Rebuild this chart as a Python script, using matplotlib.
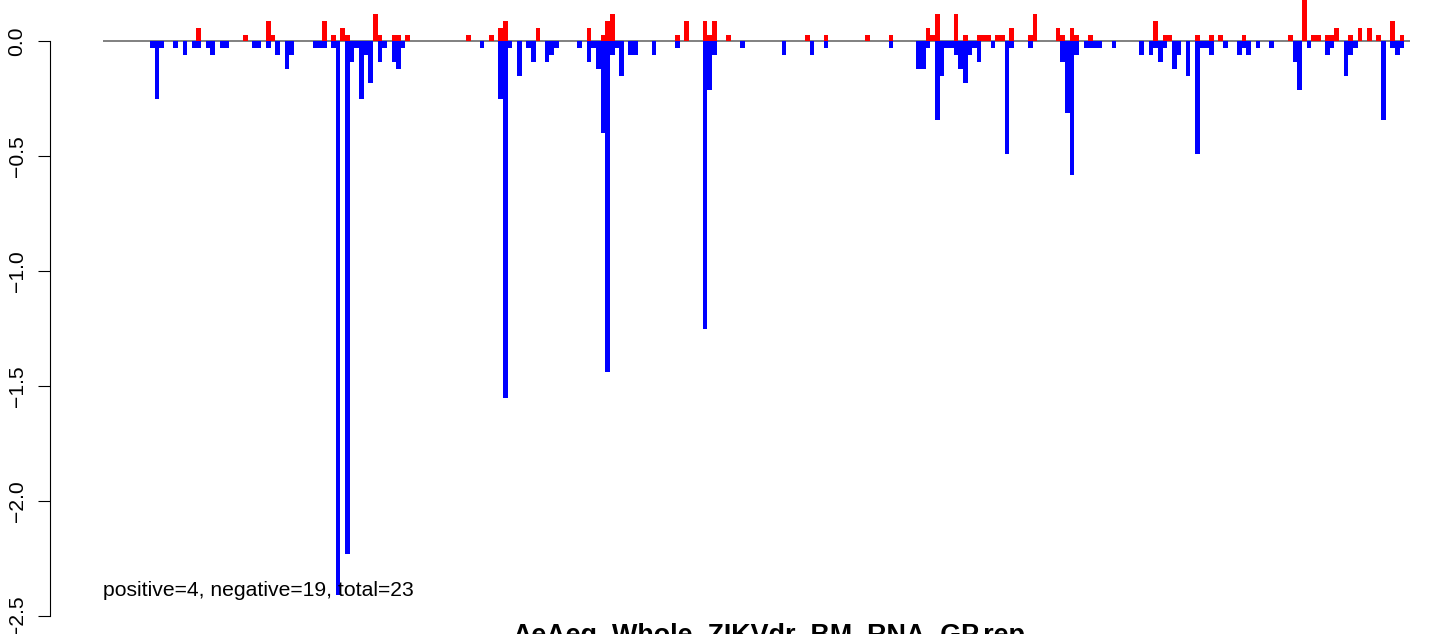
import matplotlib
matplotlib.use("Agg")
import matplotlib.pyplot as plt

plt.rcParams['font.family'] = ['Liberation Sans', 'DejaVu Sans']

## bins (bar index along x) with positive scores -> red
pos_bin = [10, 20, 25, 26, 37, 39, 41, 42, 48, 49, 52, 53, 55,
           68, 73, 75, 76, 83, 94, 97, 98, 99, 113, 115, 119, 120, 121, 124,
           141, 145, 154, 159, 167, 168, 169, 173, 175, 178, 179, 180, 182, 183,
           185, 189, 190, 195, 196, 198, 199,
           202, 216, 218, 219, 225, 228, 230, 235, 245, 248, 250, 251, 253, 254,
           255, 258, 260, 262, 264, 267, 269]
pos_val = [0.06, 0.03, 0.09, 0.03, 0.09, 0.03, 0.06, 0.03, 0.12, 0.03, 0.03, 0.03, 0.03,
           0.03, 0.03, 0.06, 0.09, 0.06, 0.06, 0.03, 0.09, 0.12, 0.03, 0.09, 0.09, 0.03, 0.09, 0.03,
           0.03, 0.03, 0.03, 0.03, 0.06, 0.03, 0.12, 0.12, 0.03, 0.03, 0.03, 0.03, 0.03, 0.03,
           0.06, 0.03, 0.12, 0.06, 0.03, 0.06, 0.03,
           0.03, 0.09, 0.03, 0.03, 0.03, 0.03, 0.03, 0.03, 0.03, 0.19, 0.03, 0.03, 0.03, 0.03,
           0.06, 0.03, 0.06, 0.06, 0.03, 0.09, 0.03]

## bins with negative scores -> blue
neg_bin = [0, 1, 2, 5, 7, 9, 10, 12, 13, 15, 16, 22, 23, 25, 27, 29, 30, 35, 36, 37,
           39, 40, 42, 43, 44, 45, 46, 47, 49, 50, 52, 53, 54,
           71, 75, 76, 77, 79, 81, 82, 85, 86, 87, 92, 94, 95, 96, 97, 98, 99, 100,
           101, 103, 104, 108, 113, 119, 120, 121, 127,
           136, 142, 145, 159, 165, 166, 167, 169, 170, 171, 172, 173, 174, 175, 176,
           177, 178, 181, 184, 185, 189, 196, 197, 198, 199,
           201, 202, 203, 204, 207, 213, 215, 216, 217, 218, 220, 221, 223, 225, 226,
           227, 228, 231, 234, 235, 236, 238, 241, 246, 247, 249, 253, 254, 257, 258,
           259, 265, 267, 268, 269]
neg_val = [-0.03, -0.25, -0.03, -0.03, -0.06, -0.03, -0.03, -0.03, -0.06, -0.03, -0.03,
           -0.03, -0.03, -0.03, -0.06, -0.12, -0.06, -0.03, -0.03, -0.03,
           -0.03, -2.41, -2.23, -0.09, -0.03, -0.25, -0.06, -0.18, -0.09, -0.03, -0.09, -0.12, -0.03,
           -0.03, -0.25, -1.55, -0.03, -0.15, -0.03, -0.09, -0.09, -0.06, -0.03, -0.03, -0.09,
           -0.03, -0.12, -0.40, -1.44, -0.06, -0.03,
           -0.15, -0.06, -0.06, -0.06, -0.03, -1.25, -0.21, -0.06, -0.03,
           -0.06, -0.06, -0.03, -0.03, -0.12, -0.12, -0.03, -0.34, -0.15, -0.03, -0.03, -0.06,
           -0.12, -0.18, -0.06,
           -0.03, -0.09, -0.03, -0.49, -0.03, -0.03, -0.09, -0.31, -0.58, -0.06,
           -0.03, -0.03, -0.03, -0.03, -0.03, -0.06, -0.06, -0.03, -0.09, -0.03, -0.12, -0.06,
           -0.15, -0.49, -0.03,
           -0.03, -0.06, -0.03, -0.06, -0.03, -0.06, -0.03, -0.03, -0.09, -0.21, -0.03, -0.06,
           -0.03, -0.15, -0.06,
           -0.03, -0.34, -0.03, -0.06, -0.03]

ytick_vals = [0.0, -0.5, -1.0, -1.5, -2.0, -2.5]
ytick_text = ['0.0', '\u22120.5', '\u22121.0', '\u22121.5', '\u22122.0', '\u22122.5']

n_pos = 4
n_neg = 19
title = 'AeAeg_Whole_ZIKVdr_BM_RNA_GP.rep'

W, H = 1444, 634
fig = plt.figure(figsize=(W / 100, H / 100), dpi=100)
ax = fig.add_axes([103 / W, 1 - 616 / H, (1410 - 103) / W, 616 / H])

ax.axhline(0, color='#808080', lw=1.4, zorder=1)
ax.bar(neg_bin, neg_val, width=1, align='edge', color='#0000FF', lw=0, zorder=2)
ax.bar(pos_bin, pos_val, width=1, align='edge', color='#FF0000', lw=0, zorder=2)

ax.set_xlim(-10.12, 271.26)
ax.set_ylim(-2.5, 41.5 / 230)

for s in ['top', 'right', 'bottom']:
    ax.spines[s].set_visible(False)
ax.spines['left'].set_position(('outward', 53 * 0.72))
ax.spines['left'].set_bounds(-2.5, 0)
ax.spines['left'].set_linewidth(0.8)
ax.set_xticks([])
ax.set_yticks(ytick_vals)
ax.set_yticklabels(ytick_text, rotation=90, va='center')
ax.tick_params(axis='y', length=8.6, width=0.8, pad=8.3, labelsize=15.2)

fig.text(103 / W, 1 - 596 / H,
         'positive=%d, negative=%d, total=%d' % (n_pos, n_neg, n_pos + n_neg),
         fontsize=15.2, va='baseline', ha='left')
fig.text(769 / W, 1 - 643 / H, title, fontsize=19.4, fontweight='bold',
         ha='center', va='baseline')

fig.savefig('out.png', dpi=100)
